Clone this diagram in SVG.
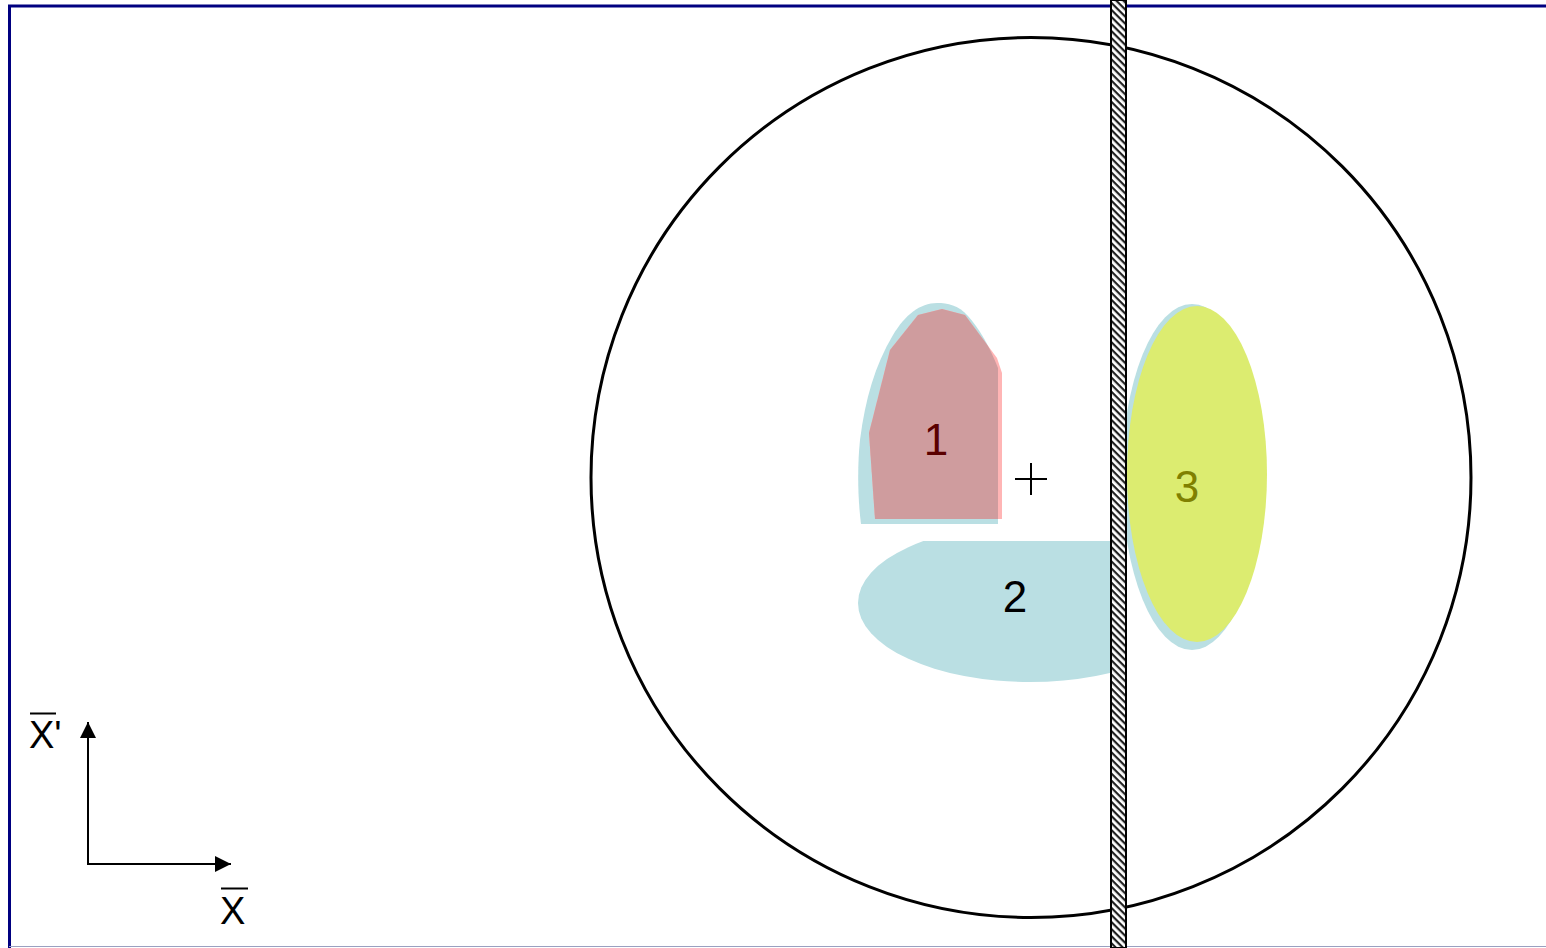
<svg xmlns="http://www.w3.org/2000/svg" width="1546" height="948" viewBox="0 0 1546 948">
<style>
.lbl{font-family:"Liberation Sans",Arial,sans-serif;font-size:44px;text-anchor:middle}
.ax{font-family:"Liberation Sans",Arial,sans-serif;font-size:38px}
.cyan{fill:#BADFE3}
.ln{stroke:#000;stroke-width:2;fill:none}
</style>
<defs>
<pattern id="hatch" patternUnits="userSpaceOnUse" width="5" height="5" patternTransform="rotate(45)">
<rect width="5" height="5" fill="#fff"/>
<rect x="0" y="0" width="5" height="2.2" fill="#222"/>
</pattern>
<clipPath id="blob1clip">
<path d="M861,524 L998,524 L998,368 Q985,335 968,316 C958,305 948,303 937,303 C920,303 905,315 893,335 C875,365 865,400 860,440 C857,470 858,500 861,524 Z"/>
</clipPath>
<clipPath id="r2clip"><rect x="800" y="541" width="312" height="200"/></clipPath>
<marker id="arr" viewBox="0 0 16 16" refX="16" refY="8" markerWidth="16" markerHeight="16" markerUnits="userSpaceOnUse" orient="auto">
<path d="M0,0 L16,8 L0,16 Z" fill="#000"/>
</marker>
</defs>
<rect width="1546" height="948" fill="#fff"/>
<g id="frame">
<line x1="8" y1="6" x2="1546" y2="6" stroke="#000080" stroke-width="3"/>
<line x1="9.5" y1="5" x2="9.5" y2="948" stroke="#000080" stroke-width="3"/>
<line x1="9" y1="946.5" x2="1546" y2="946.5" stroke="#9AA0C0" stroke-width="1"/>
</g>
<g id="circle">
<circle cx="1031" cy="477.5" r="440" fill="none" stroke="#000" stroke-width="3"/>
</g>
<g id="region1">
<path class="cyan" d="M861,524 L998,524 L998,368 Q985,335 968,316 C958,305 948,303 937,303 C920,303 905,315 893,335 C875,365 865,400 860,440 C857,470 858,500 861,524 Z"/>
<path fill="#FFB5B5" d="M918,315 L942,309 L965,315 L997,358 L1002,373 L1002,519 L875,519 L869,433 L890,350 Z"/>
<path fill="#CF9C9E" clip-path="url(#blob1clip)" d="M918,315 L942,309 L965,315 L997,358 L1002,373 L1002,519 L875,519 L869,433 L890,350 Z"/>
<text class="lbl" x="936" y="455" fill="#5A0000">1</text>
</g>
<g id="region2">
<ellipse class="cyan" cx="1030" cy="603" rx="172" ry="79" clip-path="url(#r2clip)"/>
<text class="lbl" x="1015" y="612" fill="#000">2</text>
</g>
<g id="region3">
<ellipse class="cyan" cx="1192" cy="477" rx="70" ry="173"/>
<ellipse fill="#DCEC70" cx="1197" cy="474" rx="70" ry="168"/>
<text class="lbl" x="1187" y="502" fill="#808000">3</text>
</g>
<g id="center">
<line class="ln" x1="1015" y1="479" x2="1047" y2="479"/>
<line class="ln" x1="1031" y1="463" x2="1031" y2="495"/>
</g>
<g id="wall">
<rect x="1111" y="0" width="15" height="948" fill="url(#hatch)" stroke="#000" stroke-width="2"/>
</g>
<g id="axes">
<line class="ln" x1="88" y1="865" x2="88" y2="722" marker-end="url(#arr)"/>
<line class="ln" x1="87" y1="864" x2="231" y2="864" marker-end="url(#arr)"/>
</g>
<g id="axis-labels">
<text class="ax" x="29" y="748">X'</text>
<line x1="30" y1="713.5" x2="56" y2="713.5" stroke="#000" stroke-width="2"/>
<text class="ax" x="220" y="924">X</text>
<line x1="221" y1="888.5" x2="248" y2="888.5" stroke="#000" stroke-width="2"/>
</g>
</svg>
